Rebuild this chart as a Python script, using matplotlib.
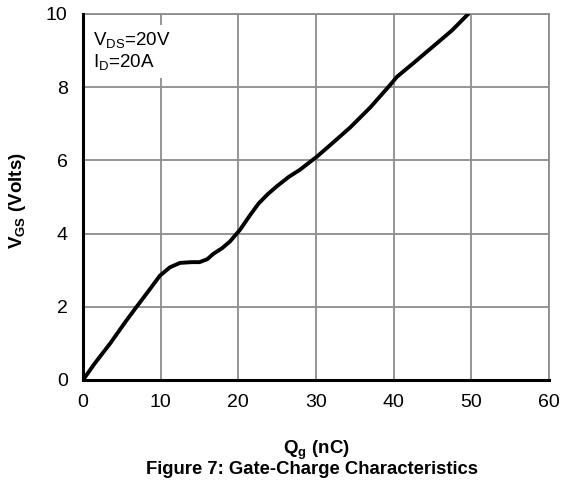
import numpy as np
import matplotlib.pyplot as plt

plt.rcParams['font.family'] = ['Liberation Sans', 'DejaVu Sans']

# gate charge curve
qg = [0, 1.5, 3.5, 5.5, 6.9, 8.5, 9.9, 11.2, 12.5, 14, 15, 16, 16.8, 17.9, 18.9, 20.2,
      21.5, 22.6, 23.8, 25, 26.5, 27.9, 30.1, 32, 34.4, 37, 39.5, 40.4, 42.5, 45, 47.5, 49.6]
vgs = [0, 0.45, 1.0, 1.6, 2.0, 2.45, 2.85, 3.08, 3.2, 3.22, 3.22, 3.3, 3.45, 3.6, 3.78, 4.1,
       4.5, 4.82, 5.08, 5.3, 5.55, 5.74, 6.1, 6.45, 6.9, 7.45, 8.05, 8.28, 8.65, 9.1, 9.55, 10.0]

xticks = [0, 10, 20, 30, 40, 50, 60]
yticks = [0, 2, 4, 6, 8, 10]

fig = plt.figure(figsize=(5.61, 4.87), dpi=100)
ax = fig.add_axes([83 / 561, 1 - 380 / 487, (549 - 83) / 561, (380 - 14) / 487])

ax.plot(qg, vgs, color='black', linewidth=2.8, zorder=3, solid_capstyle='round')

ax.set_xlim(0, 60)
ax.set_ylim(0, 10)
ax.set_xticks(xticks)
ax.set_yticks(yticks)
ax.grid(True, color='#8c8c8c', linewidth=1.3, zorder=0)
ax.tick_params(length=0, labelsize=14)
ax.tick_params(axis='x', pad=10)
ax.tick_params(axis='y', pad=11)
for side in ['top', 'right']:
    ax.spines[side].set_color('#8c8c8c')
    ax.spines[side].set_linewidth(1.3)
for side in ['left', 'bottom']:
    ax.spines[side].set_color('black')
    ax.spines[side].set_linewidth(2.2)
    ax.spines[side].set_zorder(4)

ax.text(0.022, 0.955, '$\\mathregular{V_{DS}}$=20V\n$\\mathregular{I_D}$=20A',
        transform=ax.transAxes, fontsize=13.5, va='top', ha='left', linespacing=1.1,
        bbox=dict(facecolor='white', edgecolor='none', pad=4), zorder=5)

ax.set_ylabel('$\\mathregular{V_{GS}}$ (Volts)', fontsize=13.5, fontweight='bold')
ax.yaxis.set_label_coords((28 - 83) / 466, 0.49)
fig.text(316 / 561, 1 - 450 / 487, '$\\mathregular{Q_g}$ (nC)', fontsize=13.5,
         fontweight='bold', ha='center', va='center')
fig.text(312 / 561, 1 - 470 / 487, 'Figure 7: Gate-Charge Characteristics', fontsize=13.3,
         fontweight='bold', ha='center', va='center')

fig.savefig('out.png', dpi=100)
